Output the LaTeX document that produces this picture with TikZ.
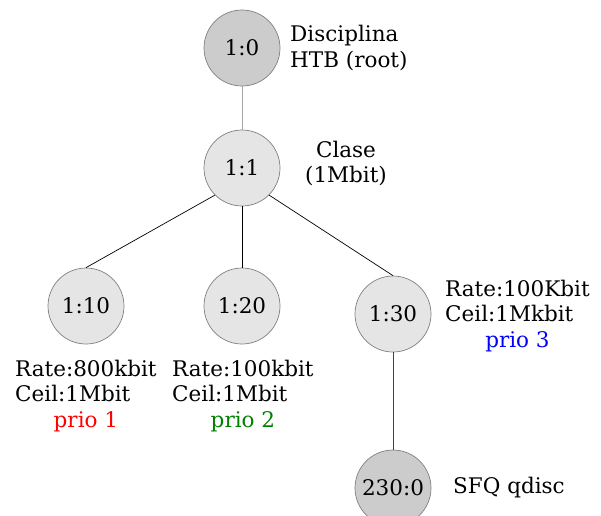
\documentclass[tikz,border=0pt]{standalone}
\usepackage{fontspec}
\setmainfont{DejaVu Serif}
\begin{document}
\begin{tikzpicture}[x=1pt,y=-1pt,
  txt/.style={inner sep=0pt,font=\fontsize{21.5}{25.5}\selectfont},
  qnode/.style={circle,draw=black!50,line width=0.7pt,minimum size=76pt,inner sep=0pt,font=\fontsize{21.5}{25.5}\selectfont},
  qdisc/.style={qnode,fill=black!20},
  qclass/.style={qnode,fill=black!10},
  link/.style={line width=0.7pt,black}]
\useasboundingbox (0,0) rectangle (601,515);
\begin{scope}
\clip (0,0) rectangle (601,515);
% tree nodes
\node[qdisc]  (root) at (242,48)  {1:0};
\node[qclass] (c11)  at (242,168) {1:1};
\node[qclass] (c10)  at (86,306)  {1:10};
\node[qclass] (c20)  at (242,306) {1:20};
\node[qclass] (c30)  at (393,314) {1:30};
\node[qdisc]  (sfq)  at (393,488) {230:0};
% connectors
\draw[line width=0.9pt,black!35] (root) -- (c11);
\draw[link] (c11.225) -- (c10.north);
\draw[link] (c11) -- (c20);
\draw[link] (c11.-45) -- (c30.north);
\draw[line width=0.9pt,black!75] (c30) -- (sfq);
\end{scope}
% annotations
\node[txt,anchor=west,align=left] (lroot) at (290,48) {Disciplina\\HTB (root)};
\node[txt,align=center] (l11) at (346,163.5) {Clase\\(1Mbit)};
\node[txt,anchor=north west] (l10) at (15,358) {\begin{tabular}{@{}l@{}}Rate:800kbit\\Ceil:1Mbit\\\multicolumn{1}{@{}c@{}}{\color{red}prio 1}\end{tabular}};
\node[txt,anchor=north west] (l20) at (172,358) {\begin{tabular}{@{}l@{}}Rate:100kbit\\Ceil:1Mbit\\\multicolumn{1}{@{}c@{}}{\color[rgb]{0,0.5,0}prio 2}\end{tabular}};
\node[txt,anchor=north west] (l30) at (445,278) {\begin{tabular}{@{}l@{}}Rate:100Kbit\\Ceil:1Mkbit\\\multicolumn{1}{@{}c@{}}{\color{blue}prio 3}\end{tabular}};
\node[txt,anchor=west] (lsfq) at (453,488) {SFQ qdisc};
\end{tikzpicture}
\end{document}
